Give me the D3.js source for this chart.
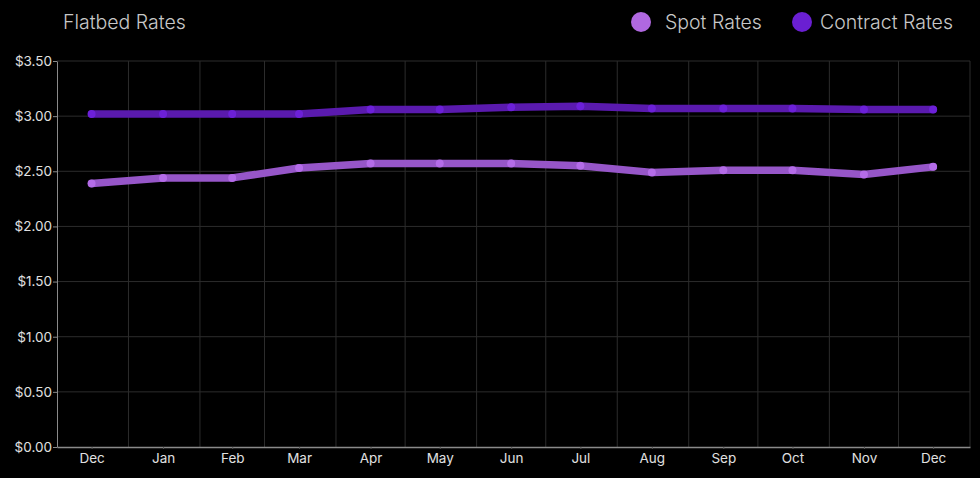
<!DOCTYPE html>
<html><head><meta charset="utf-8">
<script src="https://cdn.jsdelivr.net/npm/d3@7"></script>
<style>
html,body{margin:0;padding:0;background:#000;}
svg{display:block;font-family:Inter, "Noto Sans", sans-serif;}
</style></head>
<body><svg id="c" width="980" height="478"></svg>
<script>
const months = ["2022-12-16","2023-01-16","2023-02-15","2023-03-16","2023-04-16","2023-05-16","2023-06-16","2023-07-16","2023-08-16","2023-09-16","2023-10-16","2023-11-16","2023-12-16"];
const spotRates = [2.39,2.44,2.44,2.53,2.57,2.57,2.57,2.55,2.49,2.51,2.51,2.47,2.54];
const contractRates = [3.02,3.02,3.02,3.02,3.06,3.06,3.08,3.09,3.07,3.07,3.07,3.06,3.06];
const yTicks = [0,0.5,1,1.5,2,2.5,3,3.5];
const seriesNames = ["Spot Rates","Contract Rates"];
const title = "Flatbed Rates";

const parse = d3.timeParse("%Y-%m-%d");
const dates = months.map(parse);
const svg = d3.select("#c");
const m = {l:57, r:970, t:61, b:447};
const x = d3.scaleTime().domain([new Date(2022,11,1), new Date(2024,0,1)]).range([m.l, m.r]);
const y = d3.scaleLinear().domain([0,3.5]).range([m.b, m.t]);

// grid
const g = svg.append("g");
g.selectAll(".hg").data(yTicks.slice(1)).join("line")
  .attr("x1", m.l).attr("x2", m.r).attr("y1", d=>y(d)).attr("y2", d=>y(d))
  .attr("stroke","#2c2c2c").attr("stroke-width",1);
g.selectAll(".vg").data(x.ticks(d3.timeMonth.every(1)).slice(1)).join("line")
  .attr("x1", d=>x(d)).attr("x2", d=>x(d)).attr("y1", m.t).attr("y2", m.b)
  .attr("stroke","#2c2c2c").attr("stroke-width",1);

// axes
const ya = svg.append("g").attr("transform",`translate(${m.l},0)`)
  .call(d3.axisLeft(y).tickValues(yTicks).tickFormat(d=>"$"+d3.format(".2f")(d)).tickSize(4).tickSizeOuter(0));
ya.select(".domain").attr("stroke","#8a8a8a");
ya.selectAll(".tick line").attr("stroke","#8a8a8a");
ya.selectAll("text").attr("fill","#e0e0e0").attr("font-size","13.5px").attr("x",-5).attr("font-family","Inter, sans-serif");

const xa = svg.append("g").attr("transform",`translate(0,${m.b})`)
  .call(d3.axisBottom(x).tickValues(dates).tickFormat(d3.timeFormat("%b")).tickSize(2).tickSizeOuter(0));
xa.select(".domain").attr("stroke","#8a8a8a").attr("stroke-width",1.5);
xa.selectAll(".tick line").attr("stroke","#555");
xa.selectAll("text").attr("fill","#e0e0e0").attr("font-size","13.5px").attr("y",6).attr("font-family","Inter, sans-serif");

const series = [
  {name:seriesNames[0], vals:spotRates, line:"#9656c8", dot:"#b46ce8"},
  {name:seriesNames[1], vals:contractRates, line:"#5a1aae", dot:"#6c20d8"}
];
const line = d3.line().x((d,i)=>x(dates[i])).y(d=>y(d)).curve(d3.curveLinear);
series.forEach(s=>{
  svg.append("path").datum(s.vals).attr("d",line).attr("fill","none")
    .attr("stroke",s.line).attr("stroke-width",7.5).attr("stroke-linecap","round").attr("stroke-linejoin","round");
  svg.append("g").selectAll("circle").data(s.vals).join("circle")
    .attr("cx",(d,i)=>x(dates[i])).attr("cy",d=>y(d)).attr("r",4).attr("fill",s.dot);
});

// title
svg.append("text").attr("x",63).attr("y",29).text(title)
  .attr("fill","#c8c8c8").attr("font-size","19.5px").attr("font-weight",300).attr("font-family","Inter, sans-serif");

// legend
const lg = [{cx:641, tx:665},{cx:802, tx:820}];
series.forEach((s,i)=>{
  svg.append("circle").attr("cx",lg[i].cx).attr("cy",22).attr("r",10).attr("fill", i===0?"#b068e0":"#6a1fd2");
  svg.append("text").attr("x",lg[i].tx).attr("y",29).text(s.name)
    .attr("fill","#c8c8c8").attr("font-size","19.5px").attr("font-weight",300).attr("font-family","Inter, sans-serif");
});
</script></body></html>
